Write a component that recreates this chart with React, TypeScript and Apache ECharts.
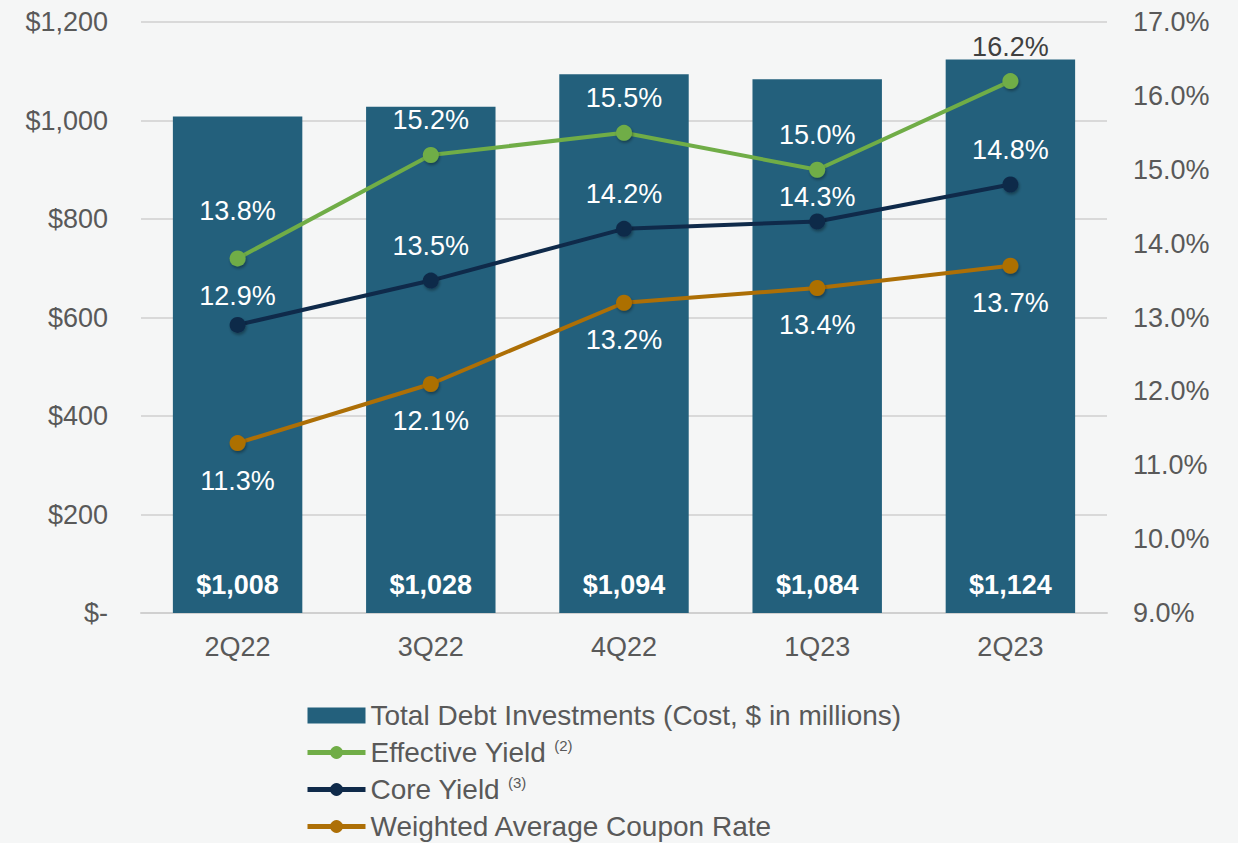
import React, { useEffect, useRef } from "react";
import * as echarts from "echarts";

const categories = ["2Q22", "3Q22", "4Q22", "1Q23", "2Q23"];
const totalDebt = [1008, 1028, 1094, 1084, 1124];
const effectiveYield = [13.8, 15.2, 15.5, 15.0, 16.2];
const coreYield = [12.9, 13.5, 14.2, 14.3, 14.8];
const couponRate = [11.3, 12.1, 13.2, 13.4, 13.7];

const FONT = "'Liberation Sans', Arial, Helvetica, sans-serif";
const GRAY = "#595959";
const FS = 27;

const GREEN = "#70ad47";
const NAVY = "#0f2a4a";
const ORANGE = "#ad6f06";
const BAR = "#23607c";

export default function App() {
  const ref = useRef<HTMLDivElement>(null);
  useEffect(() => {
    if (!ref.current) return;
    const chart = echarts.init(ref.current, undefined, { renderer: "svg" });
    const effOffsets: Record<number, any> = { 0: { offset: [0, -13] }, 4: { color: "#404040" } };
    const coreOffsets: Record<number, any> = { 0: { offset: [0, 6] }, 3: { offset: [0, 10] } };
    const mk = (vals: number[], offs: Record<number, any>) =>
      vals.map((v, i) => (offs[i] ? { value: v, label: offs[i] } : v));
    const lineLabel = (pos: string, dist: number) => ({
      show: true,
      position: pos,
      distance: dist,
      fontSize: FS,
      fontFamily: FONT,
      color: "#ffffff",
      formatter: (p: any) => Number(p.value).toFixed(1) + "%",
    });
    const symStyle = (c: string) => ({
      color: c,
      shadowBlur: 3,
      shadowColor: "rgba(0,0,0,0.35)",
      shadowOffsetY: 2,
      shadowOffsetX: 1,
    });
    chart.setOption({
      animation: false,
      backgroundColor: "#f5f6f6",
      textStyle: { fontFamily: FONT },
      grid: { left: 141, right: 131, top: 22, bottom: 230, containLabel: false },
      legend: {
        orient: "vertical",
        left: 300,
        top: 696,
        height: 150,
        itemWidth: 58,
        itemHeight: 16,
        itemGap: 8,
        textStyle: {
          fontSize: 28,
          lineHeight: 29,
          color: GRAY,
          fontFamily: FONT,
          rich: {
            sup: { fontSize: 15, color: GRAY, fontFamily: FONT, verticalAlign: "top", padding: [0, 0, 12, 0] },
          },
        },
        formatter: (name: string) => {
          if (name === "Effective Yield") return "Effective Yield {sup|(2)}";
          if (name === "Core Yield") return "Core Yield {sup|(3)}";
          return name;
        },
        data: [
          { name: "Total Debt Investments (Cost, $ in millions)", icon: "rect" },
          { name: "Effective Yield", lineStyle: { width: 5, color: GREEN }, itemStyle: { color: GREEN } },
          { name: "Core Yield", lineStyle: { width: 5, color: NAVY }, itemStyle: { color: NAVY } },
          { name: "Weighted Average Coupon Rate", lineStyle: { width: 5, color: ORANGE }, itemStyle: { color: ORANGE } },
        ],
      },
      xAxis: {
        type: "category",
        data: categories,
        axisLine: { lineStyle: { color: "#d0d0d0", width: 2 } },
        axisTick: { show: false },
        axisLabel: { fontSize: FS, color: GRAY, fontFamily: FONT, margin: 20 },
      },
      yAxis: [
        {
          type: "value",
          min: 0,
          max: 1200,
          interval: 200,
          axisLine: { show: false },
          axisTick: { show: false },
          splitLine: { lineStyle: { color: "#d9d9d9", width: 2 } },
          axisLabel: {
            fontSize: FS,
            color: GRAY,
            fontFamily: FONT,
            margin: 33,
            formatter: (v: number) => (v === 0 ? "$-" : "$" + v.toLocaleString("en-US")),
          },
        },
        {
          type: "value",
          min: 9,
          max: 17,
          interval: 1,
          axisLine: { show: false },
          axisTick: { show: false },
          splitLine: { show: false },
          axisLabel: {
            fontSize: FS,
            color: GRAY,
            fontFamily: FONT,
            margin: 26,
            formatter: (v: number) => v.toFixed(1) + "%",
          },
        },
      ],
      series: [
        {
          name: "Total Debt Investments (Cost, $ in millions)",
          type: "bar",
          data: totalDebt,
          barWidth: "67%",
          itemStyle: { color: BAR },
          label: {
            show: true,
            position: "insideBottom",
            distance: 15,
            fontSize: FS,
            fontWeight: "bold",
            color: "#ffffff",
            fontFamily: FONT,
            formatter: (p: any) => "$" + Number(p.value).toLocaleString("en-US"),
          },
        },
        {
          name: "Effective Yield",
          type: "line",
          yAxisIndex: 1,
          data: mk(effectiveYield, effOffsets),
          symbol: "circle",
          symbolSize: 16,
          lineStyle: { width: 4, color: GREEN },
          itemStyle: symStyle(GREEN),
          label: lineLabel("top", 13),
        },
        {
          name: "Core Yield",
          type: "line",
          yAxisIndex: 1,
          data: mk(coreYield, coreOffsets),
          symbol: "circle",
          symbolSize: 16,
          lineStyle: { width: 4, color: NAVY },
          itemStyle: symStyle(NAVY),
          label: lineLabel("top", 13),
        },
        {
          name: "Weighted Average Coupon Rate",
          type: "line",
          yAxisIndex: 1,
          data: couponRate,
          symbol: "circle",
          symbolSize: 16,
          lineStyle: { width: 4, color: ORANGE },
          itemStyle: symStyle(ORANGE),
          label: lineLabel("bottom", 16),
        },
      ],
    });
    return () => chart.dispose();
  }, []);
  return (
    <div
      ref={ref}
      style={{ position: "fixed", left: 0, top: 0, width: 1238, height: 843 }}
    />
  );
}
